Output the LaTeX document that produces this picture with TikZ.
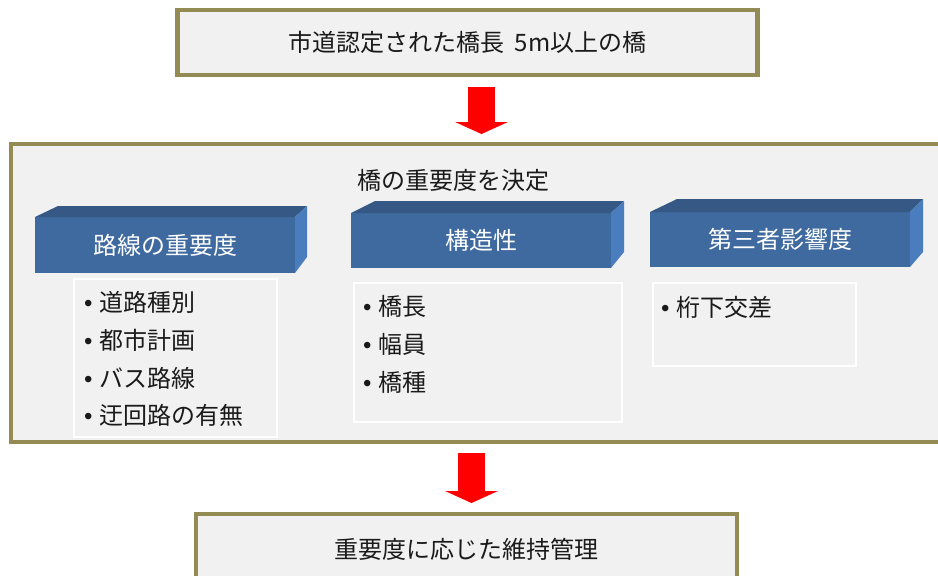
\documentclass[tikz,border=0pt]{standalone}
\usepackage{fontspec}
\setmainfont{Noto Sans CJK JP}
\newfontfamily\bulletfont{Liberation Sans}
\usetikzlibrary{arrows.meta}
\definecolor{frameol}{HTML}{948A54}
\definecolor{panelbg}{HTML}{F1F1F1}
\definecolor{frontc}{HTML}{3F6A9F}
\definecolor{topc}{HTML}{355984}
\definecolor{sidec}{HTML}{4A7DBE}
\definecolor{txtc}{HTML}{1A1A1A}
\newcommand{\bul}{\makebox[15pt][l]{\bulletfont\fontsize{24}{24}\selectfont •}}
\begin{document}
\begin{tikzpicture}[x=1pt,y=-1pt,
  bigfont/.style={font=\fontsize{24}{28}\selectfont},
  framebox/.style={draw=frameol,line width=4.5pt,fill=panelbg,inner sep=0pt,outer sep=0pt,text=txtc,bigfont},
  blockfront/.style={fill=frontc,inner sep=0pt,outer sep=0pt,text=white,bigfont},
  listbox/.style={draw=white,line width=2pt,fill=panelbg,inner sep=0pt,outer sep=0pt},
  itemtxt/.style={anchor=west,inner sep=0pt,text=txtc,bigfont},
  bigarrow/.style={red,line width=27pt,-{Triangle[width=53pt,length=12pt,line width=0pt]}}
]
\useasboundingbox (0,0) rectangle (938,576);
\clip (0,0) rectangle (938,576);
\fill[white] (0,0) rectangle (938,576);

% top box
\node[framebox,minimum width=580pt,minimum height=65pt] (top) at (467.5,42.5) {市道認定された橋長\hspace{10pt}5m以上の橋};

% big panel
\node[framebox,minimum width=945pt,minimum height=298pt] (panel) at (483.5,293) {};
\node[inner sep=0pt,text=txtc,bigfont] (ptitle) at (453,180) {橋の重要度を決定};

% bottom box
\node[framebox,minimum width=541pt,minimum height=70pt] (bottom) at (466.5,549) {重要度に応じた維持管理};

% arrows
\coordinate (a1s) at (481.5,87);
\coordinate (a1e) at (481.5,134);
\coordinate (a2s) at (471.5,453);
\coordinate (a2e) at (471.5,503);
\draw[bigarrow] (a1s) -- (a1e);
\draw[bigarrow] (a2s) -- (a2e);

% block 1
\node[blockfront,minimum width=260pt,minimum height=56pt] (b1) at (165,245) {路線の重要度};
\fill[topc] (b1.north west) -- ++(23,-11) -- ([shift={(12,-11)}]b1.north east) -- (b1.north east) -- cycle;
\fill[sidec] (b1.north east) -- ++(12,-11) -- ([shift={(12,-16)}]b1.south east) -- (b1.south east) -- cycle;

% block 2
\node[blockfront,minimum width=260pt,minimum height=55pt] (b2) at (481,240.5) {構造性};
\fill[topc] (b2.north west) -- ++(24,-12) -- ([shift={(13,-12)}]b2.north east) -- (b2.north east) -- cycle;
\fill[sidec] (b2.north east) -- ++(13,-12) -- ([shift={(13,-16)}]b2.south east) -- (b2.south east) -- cycle;

% block 3
\node[blockfront,minimum width=260pt,minimum height=55pt] (b3) at (780,239.5) {第三者影響度};
\fill[topc] (b3.north west) -- ++(27,-13) -- ([shift={(13,-13)}]b3.north east) -- (b3.north east) -- cycle;
\fill[sidec] (b3.north east) -- ++(13,-13) -- ([shift={(13,-15)}]b3.south east) -- (b3.south east) -- cycle;

% list boxes
\node[listbox,minimum width=203pt,minimum height=158pt] (l1) at (175.5,358) {};
\node[listbox,minimum width=268pt,minimum height=139pt] (l2) at (488,352.5) {};
\node[listbox,minimum width=203pt,minimum height=83pt] (l3) at (754.5,324.5) {};

\node[itemtxt] (i11) at (84,302) {\bul 道路種別};
\node[itemtxt] (i12) at (84,340) {\bul 都市計画};
\node[itemtxt] (i13) at (84,378) {\bul バス路線};
\node[itemtxt] (i14) at (84,415) {\bul 迂回路の有無};

\node[itemtxt] (i21) at (363,306) {\bul 橋長};
\node[itemtxt] (i22) at (363,344) {\bul 幅員};
\node[itemtxt] (i23) at (363,382) {\bul 橋種};

\node[itemtxt] (i31) at (661,307) {\bul 桁下交差};
\end{tikzpicture}
\end{document}
